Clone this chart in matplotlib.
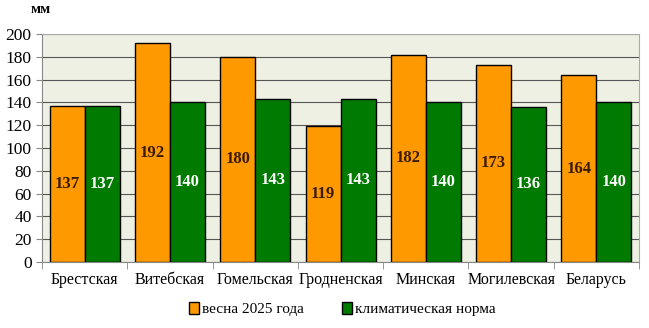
import numpy as np
import matplotlib.pyplot as plt

regions = ['Брестская', 'Витебская', 'Гомельская', 'Гродненская',
           'Минская', 'Могилевская', 'Беларусь']
spring_2025 = [137, 192, 180, 119, 182, 173, 164]
climate_norm = [137, 140, 143, 143, 140, 136, 140]

plt.rcParams['font.family'] = ['Liberation Serif', 'DejaVu Serif']

fig = plt.figure(figsize=(6.49, 3.28), dpi=100)
ax = fig.add_axes([0.0647, 0.2012, 0.920, 0.6951])
ax.set_facecolor('#eef0e3')

x = np.arange(len(regions))
w = 0.41
b1 = ax.bar(x - w / 2, spring_2025, w, color='#ff9900', edgecolor='black',
            linewidth=1.0, label='весна 2025 года', zorder=3)
b2 = ax.bar(x + w / 2, climate_norm, w, color='#007a00', edgecolor='black',
            linewidth=1.0, label='климатическая норма', zorder=3)

# value labels in the middle of each bar
for rect, v in zip(b1, spring_2025):
    ax.text(rect.get_x() + rect.get_width() / 2, v / 2, str(v), ha='center',
            va='center', fontsize=12, fontweight='bold', color='#3a1a00', zorder=4)
for rect, v in zip(b2, climate_norm):
    ax.text(rect.get_x() + rect.get_width() / 2, v / 2, str(v), ha='center',
            va='center', fontsize=12, fontweight='bold', color='white', zorder=4)

ax.set_ylim(0, 200)
ax.set_yticks(range(0, 201, 20))
ax.set_xlim(-0.5, len(regions) - 0.5)
ax.yaxis.grid(True, color='#555555', linewidth=0.8, zorder=0)
ax.tick_params(axis='y', labelsize=12.5, length=4, color='#888888')

ax.set_xticks(x)
ax.set_xticklabels(regions, fontsize=11.5)
ax.tick_params(axis='x', length=0, pad=7)
ax.set_xticks(np.arange(-0.5, len(regions), 1), minor=True)
ax.tick_params(axis='x', which='minor', length=5, color='#888888')

for s in ['top', 'right']:
    ax.spines[s].set_color('#aaaaaa')
for s in ['left', 'bottom']:
    ax.spines[s].set_color('#888888')

fig.text(0.062, 0.97, 'мм', fontsize=10.5, fontweight='bold', ha='center', va='center')

fig.legend(loc='center', bbox_to_anchor=(0.528, 0.058), ncol=2, frameon=False,
           fontsize=11, handlelength=0.6, handleheight=0.8, handletextpad=0.25,
           columnspacing=2.5)

fig.savefig('out.png', dpi=100)
